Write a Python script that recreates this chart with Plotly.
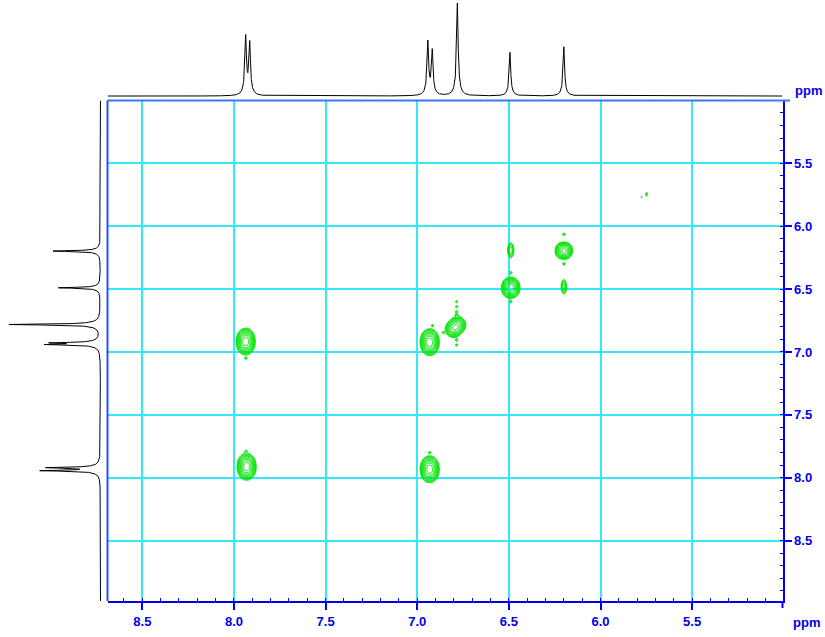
import numpy as np
import plotly.graph_objects as go

# ---------------- data ----------------
# 1D projection on top (F2) : line positions (ppm) and relative heights
f2_shift = [7.936, 7.914, 6.942, 6.918, 6.781, 6.494, 6.200]
f2_height = [0.62, 0.55, 0.57, 0.47, 1.00, 0.47, 0.53]
# 1D projection on the left (F1)
f1_shift = [7.944, 7.920, 6.941, 6.928, 6.782, 6.490, 6.198]
f1_height = [0.62, 0.55, 0.53, 0.47, 1.00, 0.46, 0.52]

# 2D contour components: F2 (x), F1 (y), amplitude, width x, width y
cross_x = [7.946, 7.926, 7.946, 7.926,      # 7.93 / 6.93
           6.942, 6.922, 6.942, 6.922,      # 6.93 / 6.93
           7.941, 7.921, 7.941, 7.921,      # 7.93 / 7.93
           6.942, 6.922, 6.942, 6.922,      # 6.93 / 7.93
           6.802, 6.780,                    # 6.78 diag
           6.500, 6.480, 6.500, 6.480,      # 6.49 diag
           6.210, 6.190, 6.210, 6.190,      # 6.20 diag
           6.490, 6.200,                    # small cross peaks
           6.785, 6.785, 6.785, 6.785, 6.785, 6.785, 6.857, 6.916,   # t1 ridge dots
           6.490, 6.490, 6.200, 6.200, 7.935, 7.935, 6.932,
           5.749, 5.776]
cross_y = [6.900, 6.900, 6.935, 6.935,
           6.905, 6.905, 6.940, 6.940,
           7.895, 7.895, 7.930, 7.930,
           7.915, 7.915, 7.950, 7.950,
           6.818, 6.785,
           6.475, 6.475, 6.505, 6.505,
           6.180, 6.180, 6.210, 6.210,
           6.192, 6.482,
           6.600, 6.640, 6.680, 6.705, 6.905, 6.945, 6.845, 6.790,
           6.370, 6.600, 6.065, 6.300, 7.050, 7.790, 7.800,
           5.747, 5.770]
cross_amp = [0.50, 0.50, 0.50, 0.50,
             0.50, 0.50, 0.50, 0.50,
             0.50, 0.50, 0.50, 0.50,
             0.50, 0.50, 0.50, 0.50,
             0.95, 0.95,
             0.50, 0.50, 0.50, 0.50,
             0.50, 0.50, 0.50, 0.50,
             0.25, 0.22,
             0.07, 0.07, 0.08, 0.08, 0.08, 0.07, 0.07, 0.07,
             0.08, 0.08, 0.08, 0.08, 0.07, 0.07, 0.07,
             0.08, 0.06]
cross_wx = [0.0170] * 16 + [0.018, 0.018] + [0.0165] * 4 + [0.0155] * 4 + [0.009, 0.008] \
    + [0.006] * 15 + [0.004, 0.004]
cross_wy = [0.036] * 16 + [0.027, 0.027] + [0.028] * 4 + [0.022] * 4 + [0.031, 0.031] \
    + [0.008] * 15 + [0.013, 0.006]

x_range = [8.690, 5.007]
y_range = [8.980, 5.001]

# ---------------- line shapes ----------------
def lorentz_sum(grid, shifts, heights, g1, g2):
    out = np.zeros_like(grid)
    for s, h in zip(shifts, heights):
        d = grid - s
        out += h * (0.85 / (1 + (d / g1) ** 2) + 0.15 / (1 + (d / g2) ** 2))
    return out / out.max()

xs = np.arange(5.007, 8.690, 0.0005)
top = lorentz_sum(xs, f2_shift, f2_height, 0.0045, 0.014)
ys = np.arange(5.001, 8.980, 0.0005)
left = lorentz_sum(ys, f1_shift, f1_height, 0.0040, 0.020)

gx = np.arange(5.65, 8.06, 0.004)
gy = np.arange(5.65, 8.12, 0.005)
GX, GY = np.meshgrid(gx, gy)
I = np.zeros_like(GX)
for cx, cy, a, sx, sy in zip(cross_x, cross_y, cross_amp, cross_wx, cross_wy):
    I += a * np.exp(-((GX - cx) ** 2 / (2 * sx ** 2) + (GY - cy) ** 2 / (2 * sy ** 2)))
Z = np.log10(I + 1e-4).astype(np.float32)

BLUE = '#0000ee'
GRID = '#33e8f8'
GREEN = '#00e400'
tick_font = dict(family='Liberation Sans, Arial', size=13, color=BLUE, weight='bold')

fig = go.Figure()
fig.add_trace(go.Contour(
    x=gx.astype(np.float32), y=gy.astype(np.float32), z=Z,
    contours=dict(coloring='lines', start=-1.40, end=0.3, size=0.16),
    colorscale=[[0, GREEN], [1, GREEN]], showscale=False,
    line=dict(width=1, smoothing=1), hoverinfo='skip',
    xaxis='x', yaxis='y'))
fig.add_trace(go.Scatter(x=xs, y=top, mode='lines', line=dict(color='black', width=1),
                         xaxis='x2', yaxis='y2', hoverinfo='skip'))
fig.add_trace(go.Scatter(x=left, y=ys, mode='lines', line=dict(color='black', width=1),
                         xaxis='x3', yaxis='y3', hoverinfo='skip'))

xd = [107.5 / 825, 782.5 / 825]
yd = [1 - 601 / 637, 1 - 100.5 / 637]

axis_common = dict(
    tickmode='linear', dtick=0.5, tickformat='.1f',
    ticks='outside', ticklen=7, tickwidth=1.5, tickcolor=BLUE,
    tickfont=tick_font,
    showgrid=True, gridcolor=GRID, gridwidth=1.5,
    showline=True, linecolor=BLUE, linewidth=2,
    zeroline=False,
    minor=dict(dtick=0.1, ticks='inside', ticklen=3, tickwidth=1, tickcolor=BLUE, showgrid=False),
)

fig.update_layout(
    width=825, height=637, margin=dict(l=0, r=0, t=0, b=0),
    paper_bgcolor='white', plot_bgcolor='white', showlegend=False,
    xaxis=dict(domain=xd, range=x_range, anchor='y', tick0=5.5, **axis_common),
    yaxis=dict(domain=yd, range=y_range, anchor='x', side='right', tick0=5.5, **axis_common),
    xaxis2=dict(domain=xd, range=x_range, anchor='y2', visible=False),
    yaxis2=dict(domain=[yd[1], 1.0], range=[-0.048, 1.032], anchor='x2', visible=False),
    xaxis3=dict(domain=[0, xd[0]], range=[1.098, -0.0765], anchor='y3', visible=False),
    yaxis3=dict(domain=yd, range=y_range, anchor='x3', visible=False),
)

# top and left borders of the 2D frame, small extension of the right axis
fig.add_shape(type='line', xref='paper', yref='paper', x0=xd[0], x1=790 / 825,
              y0=yd[1], y1=yd[1], line=dict(color='#3a78f0', width=2))
fig.add_shape(type='line', xref='paper', yref='paper', x0=xd[0], x1=xd[0],
              y0=yd[0], y1=yd[1], line=dict(color='#2a50f5', width=2))
fig.add_shape(type='line', xref='paper', yref='paper', x0=xd[1], x1=xd[1],
              y0=1 - 608 / 637, y1=yd[0], line=dict(color=BLUE, width=2))

ppm_font = dict(family='Liberation Sans, Arial', size=13, color=BLUE, weight='bold')
fig.add_annotation(text='ppm', xref='paper', yref='paper', x=808 / 825, y=1 - 90 / 637,
                   showarrow=False, font=ppm_font, xanchor='center', yanchor='middle')
fig.add_annotation(text='ppm', xref='paper', yref='paper', x=806 / 825, y=1 - 622 / 637,
                   showarrow=False, font=ppm_font, xanchor='center', yanchor='middle')

fig.write_html('out.html')
